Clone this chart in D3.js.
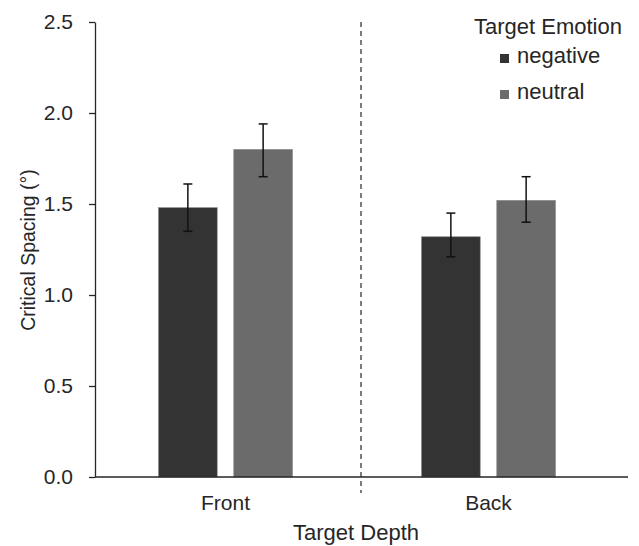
<!DOCTYPE html>
<html lang="en">
<head>
<meta charset="UTF-8">
<script src="https://d3js.org/d3.v7.min.js"></script>
<style>
    body { margin: 0; padding: 0; background: #fff; }
    svg text { font-family: "Liberation Sans", Arial, sans-serif; fill: #262626; }
</style>
</head>
<body>
<div id="chart"></div>
<script>
// data
const depths = ["Front", "Back"];
const emotions = ["negative", "neutral"];
const means = [[1.48, 1.80], [1.32, 1.52]];
const errLow = [[1.35, 1.65], [1.21, 1.40]];
const errHigh = [[1.61, 1.94], [1.45, 1.65]];
const yTicks = [0, 0.5, 1.0, 1.5, 2.0, 2.5];
const colors = ["#333333", "#6b6b6b"];

const width = 639, height = 546;
const svg = d3.select("#chart").append("svg")
    .attr("width", width)
    .attr("height", height);

const y = d3.scaleLinear().domain([0, 2.5]).range([477, 22]);
const x0 = d3.scaleBand().domain(depths).range([94, 620]);
const x1 = d3.scaleBand().domain(emotions).range([0, 134]).paddingInner(0.22);

// y axis
const yAxis = svg.append("g")
    .attr("transform", "translate(95,0)")
    .call(d3.axisLeft(y).tickValues(yTicks).tickFormat(d3.format(".1f")).tickSize(6).tickSizeOuter(0));
yAxis.select(".domain").attr("stroke", "#262626").attr("stroke-width", 1.3);
yAxis.selectAll(".tick line").attr("stroke", "#262626").attr("stroke-width", 1.3);
yAxis.selectAll(".tick text")
    .attr("x", -22)
    .style("font-size", "21px")
    .style("font-family", "'Liberation Sans', Arial, sans-serif")
    .attr("fill", "#262626");

// bars
const rows = depths.flatMap((d, i) => emotions.map((e, j) => ({
    depth: d, emotion: e, value: means[i][j], lo: errLow[i][j], hi: errHigh[i][j], color: colors[j]
})));

const groupX = d => x0(d.depth) + x0.bandwidth() / 2 - 67 + x1(d.emotion);

svg.append("g").selectAll("rect")
    .data(rows)
    .join("rect")
    .attr("x", groupX)
    .attr("width", x1.bandwidth())
    .attr("y", d => y(d.value))
    .attr("height", d => y(0) - y(d.value))
    .attr("fill", d => d.color)
    .attr("stroke", "#8a8a8a")
    .attr("stroke-width", 0.6);

// error bars
const eb = svg.append("g").selectAll("g")
    .data(rows)
    .join("g")
    .attr("stroke", "#111")
    .attr("stroke-width", 1.5);
const cx = d => groupX(d) + x1.bandwidth() / 2;
eb.append("line").attr("x1", cx).attr("x2", cx).attr("y1", d => y(d.hi)).attr("y2", d => y(d.lo));
eb.append("line").attr("x1", d => cx(d) - 4.5).attr("x2", d => cx(d) + 4.5).attr("y1", d => y(d.hi)).attr("y2", d => y(d.hi));
eb.append("line").attr("x1", d => cx(d) - 4.5).attr("x2", d => cx(d) + 4.5).attr("y1", d => y(d.lo)).attr("y2", d => y(d.lo));

// x axis line
svg.append("line")
    .attr("x1", 95).attr("x2", 628)
    .attr("y1", y(0)).attr("y2", y(0))
    .attr("stroke", "#262626").attr("stroke-width", 1.3);

// separator between depths
const sepX = x0("Back") + 4;
svg.append("line")
    .attr("x1", sepX).attr("x2", sepX)
    .attr("y1", y(2.5)).attr("y2", 493)
    .attr("stroke", "#262626").attr("stroke-width", 1.2)
    .attr("stroke-dasharray", "5,4");

// category labels
svg.append("g").selectAll("text")
    .data(depths)
    .join("text")
    .attr("x", d => x0(d) + x0.bandwidth() / 2)
    .attr("y", 510)
    .attr("text-anchor", "middle")
    .style("font-size", "21px")
    .text(d => d);

// axis titles
svg.append("text")
    .attr("x", 356).attr("y", 540)
    .attr("text-anchor", "middle")
    .style("font-size", "22px")
    .text("Target Depth");

svg.append("text")
    .attr("transform", "translate(35,250) rotate(-90)")
    .attr("text-anchor", "middle")
    .style("font-size", "19.5px")
    .text("Critical Spacing (°)");

// legend
svg.append("text")
    .attr("x", 548).attr("y", 34)
    .attr("text-anchor", "middle")
    .style("font-size", "22px")
    .text("Target Emotion");

const leg = svg.append("g").selectAll("g")
    .data(emotions)
    .join("g")
    .attr("transform", (d, i) => `translate(500,${54 + i * 36})`);
leg.append("rect")
    .attr("width", 9).attr("height", 9)
    .attr("fill", (d, i) => colors[i]);
leg.append("text")
    .attr("x", 17).attr("y", 9)
    .style("font-size", "22px")
    .text(d => d);
</script>
</body>
</html>
